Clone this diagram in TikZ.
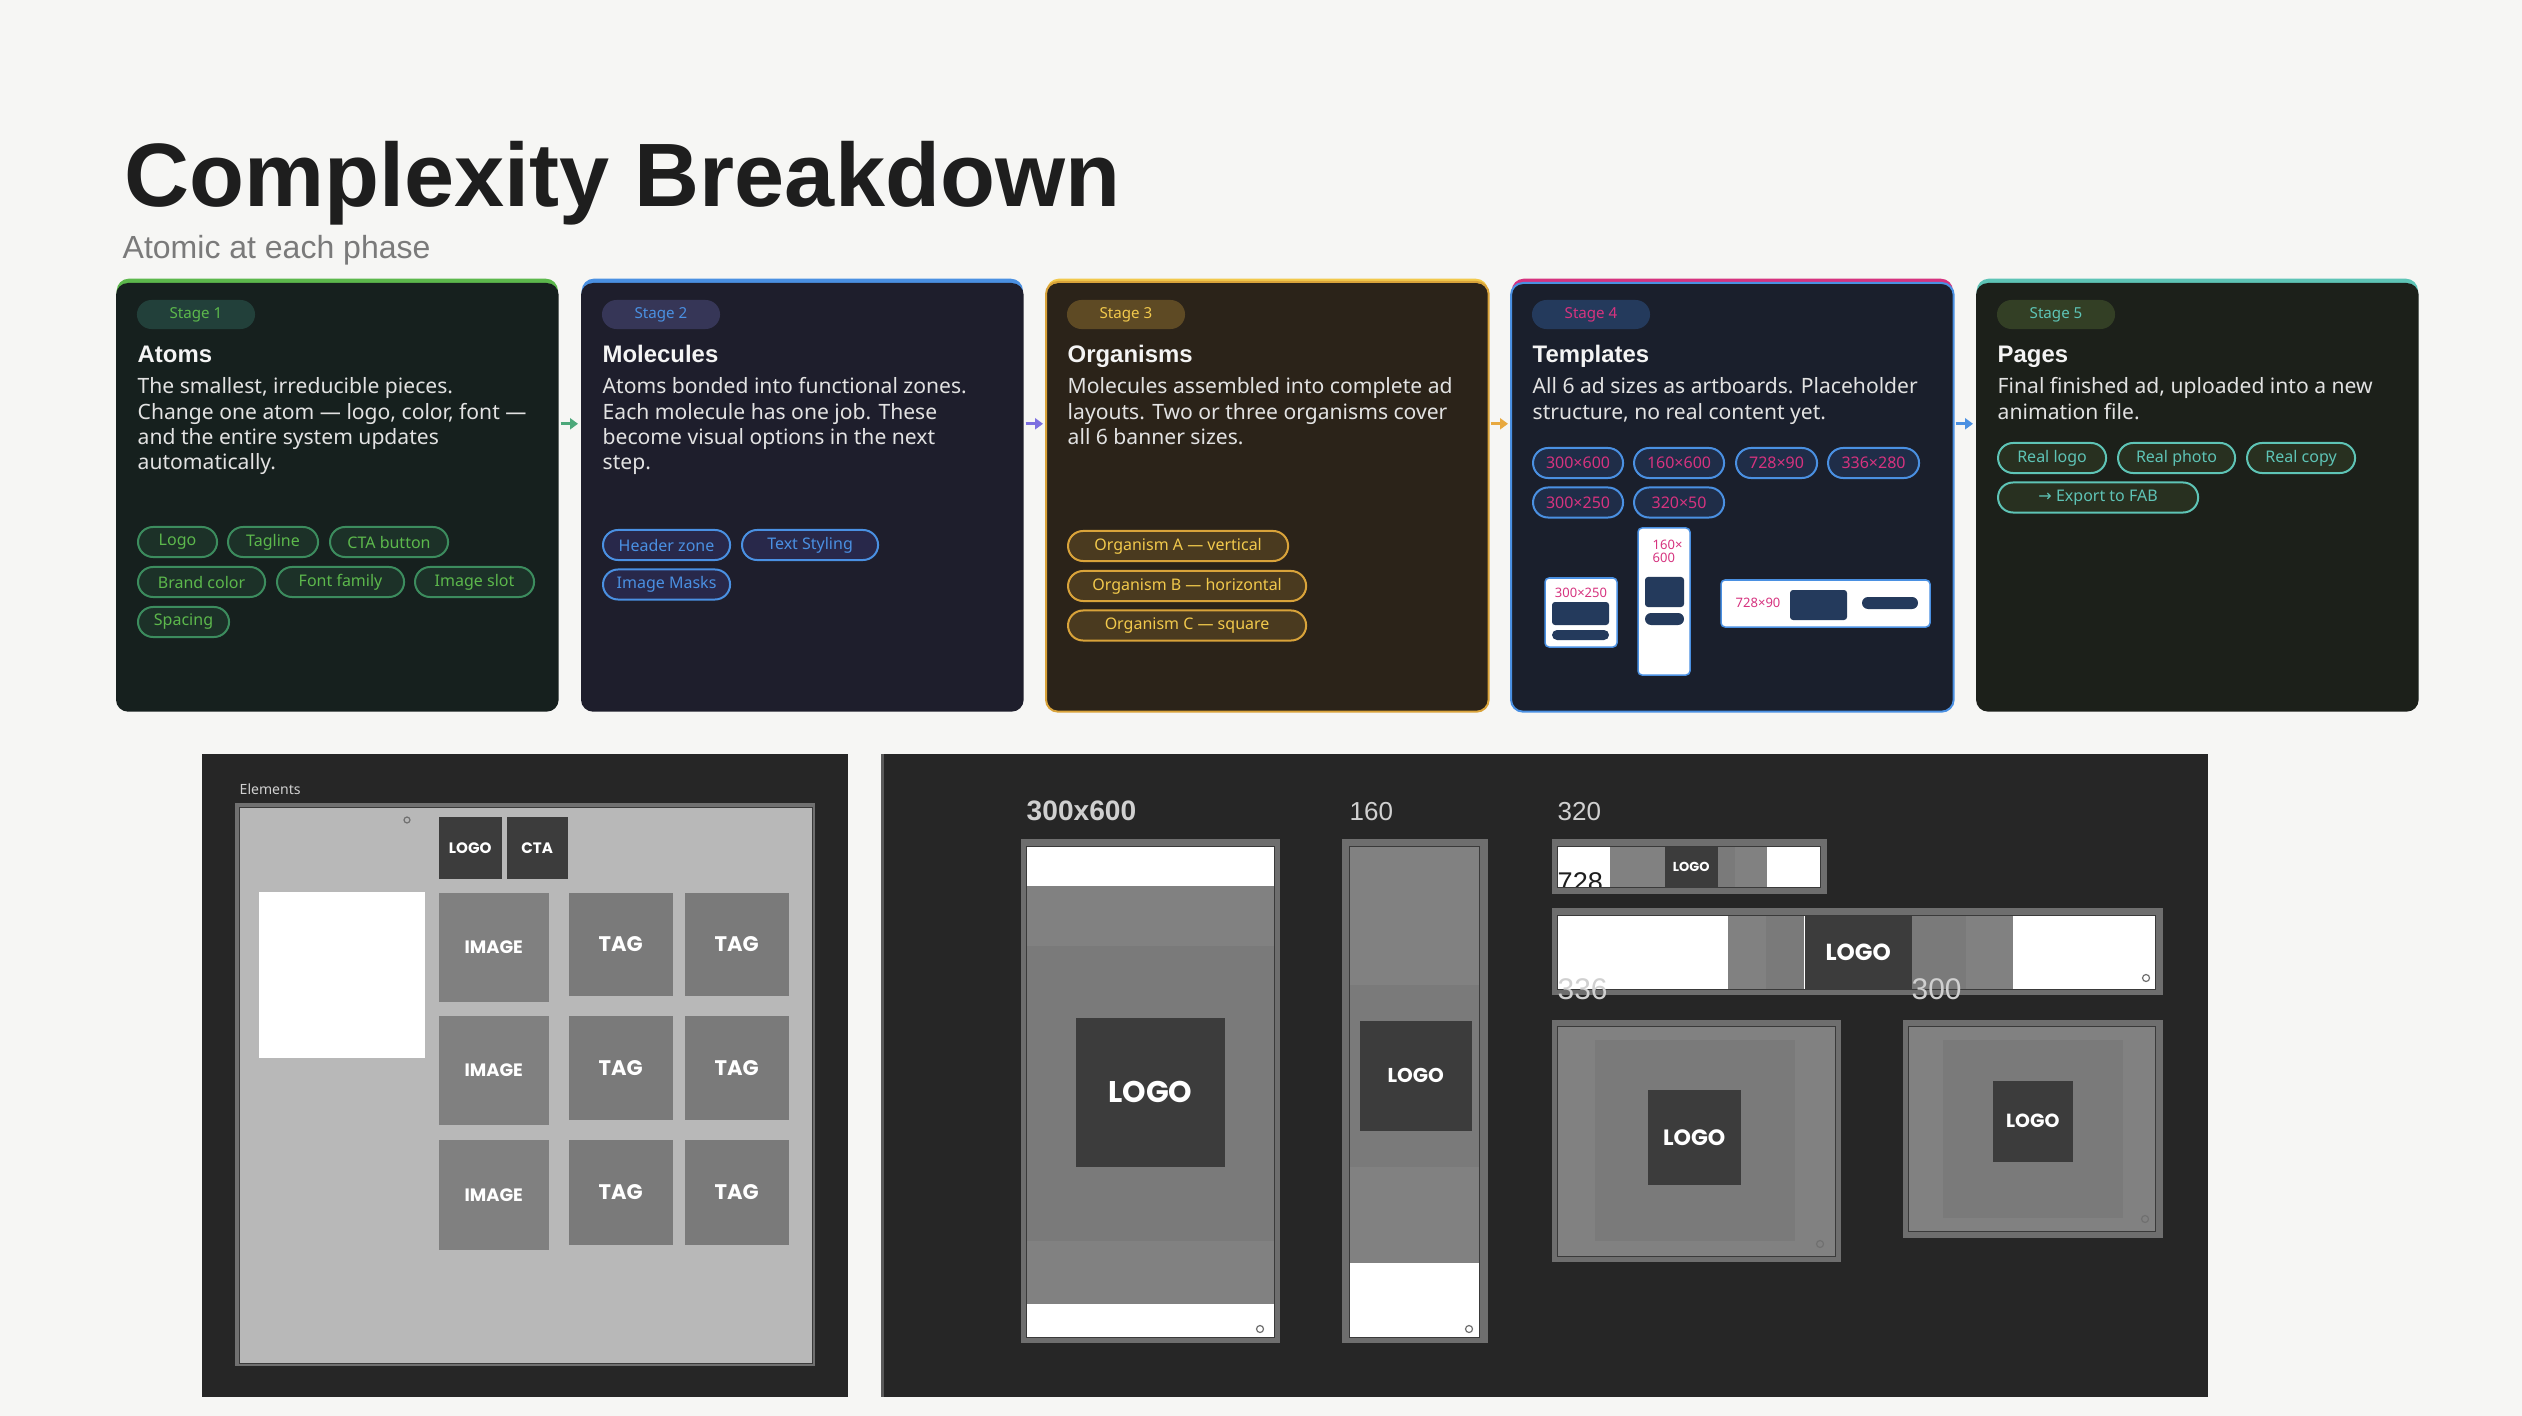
\documentclass[tikz,border=0pt]{standalone}
\usepackage{fontspec}
\setmainfont{Noto Sans}
\newfontfamily\headfont{Liberation Sans}
\newfontfamily\geofont{Poppins}
\newfontfamily\symfont{DejaVu Sans}
\usetikzlibrary{arrows.meta,shapes.misc}

% --- colours ---
\definecolor{canvas}{HTML}{F6F6F4}
\definecolor{titleblack}{HTML}{1E1E1E}
\definecolor{subgrey}{HTML}{7A7A7A}
\definecolor{cardwhite}{HTML}{F4F4F4}
\definecolor{cardgrey}{HTML}{E2E2E2}
\definecolor{atomsbar}{HTML}{5CB84C}
\definecolor{atomsbg}{HTML}{16201E}
\definecolor{atomspill}{HTML}{22403A}
\definecolor{atomschip}{HTML}{1C3128}
\definecolor{atomsedge}{HTML}{3C8C5E}
\definecolor{molbar}{HTML}{4A90E2}
\definecolor{molbg}{HTML}{1E1E2C}
\definecolor{molpill}{HTML}{363657}
\definecolor{molchip}{HTML}{28284A}
\definecolor{orgbar}{HTML}{F2C94C}
\definecolor{orgbg}{HTML}{2B2319}
\definecolor{orgpill}{HTML}{5E4A24}
\definecolor{orgchip}{HTML}{4A3A1F}
\definecolor{orgedge}{HTML}{D9A33A}
\definecolor{tplbar}{HTML}{D6337F}
\definecolor{tplbg}{HTML}{1A1F2C}
\definecolor{tplpill}{HTML}{243A5C}
\definecolor{tplchip}{HTML}{1F2D48}
\definecolor{pgbar}{HTML}{5EC4B6}
\definecolor{pgbg}{HTML}{1C201A}
\definecolor{pgpill}{HTML}{333F25}
\definecolor{pgchip}{HTML}{283020}
\definecolor{flowgreen}{HTML}{4CA87A}
\definecolor{flowpurple}{HTML}{7C6FE0}
\definecolor{floworange}{HTML}{E8A93F}
\definecolor{flowblue}{HTML}{4A90E2}
\definecolor{paneldark}{HTML}{262626}
\definecolor{panelline}{HTML}{5A5A5A}
\definecolor{frameedge}{HTML}{707070}
\definecolor{framefill}{HTML}{B8B8B8}
\definecolor{imgtile}{HTML}{808080}
\definecolor{tagtile}{HTML}{7A7A7A}
\definecolor{logodark}{HTML}{3C3C3C}
\definecolor{bandlight}{HTML}{818181}
\definecolor{bandmid}{HTML}{7A7A7A}
\definecolor{boardedge}{HTML}{6E6E6E}
\definecolor{boardline}{HTML}{3A3A3A}
\definecolor{labelgrey}{HTML}{D0D0D0}

\tikzset{
  card/.style={rounded corners=0.12cm, inner sep=0pt, minimum width=4.41cm,
    minimum height=4.32cm, anchor=north west},
  stagepill/.style={rounded rectangle, inner sep=0pt, minimum width=1.18cm,
    minimum height=0.29cm, font=\fontsize{4.3}{5}\selectfont},
  cardtitle/.style={anchor=base west, inner sep=0pt, text=cardwhite,
    font=\headfont\bfseries\fontsize{6.8}{8}\selectfont},
  cardtext/.style={anchor=north west, inner sep=0pt, align=left, text=cardgrey,
    font=\fontsize{6}{7.2}\selectfont},
  chip/.style={rounded rectangle, anchor=west, inner sep=0pt, minimum height=0.30cm,
    line width=0.02cm, font=\fontsize{4.55}{5}\selectfont},
  atomchip/.style={chip, fill=atomschip, draw=atomsedge, text=atomsbar},
  molchip/.style={chip, fill=molchip, draw=molbar, text=molbar},
  orgchip/.style={chip, fill=orgchip, draw=orgedge, text=orgbar},
  tplchip/.style={chip, fill=tplchip, draw=molbar, text=tplbar},
  pgchip/.style={chip, fill=pgchip, draw=pgbar, text=pgbar},
  minilabel/.style={inner sep=0pt, text=tplbar, font=\fontsize{3.7}{4.2}\selectfont},
  flow/.style={line width=0.03cm, -{Triangle[length=0.08cm,width=0.11cm]},
    shorten <=0.02cm, shorten >=0.03cm},
  tile/.style={anchor=north west, inner sep=0pt, text=white, font=\geofont\bfseries},
  logobox/.style={anchor=north west, inner sep=0pt, fill=logodark, text=white,
    font=\geofont\bfseries},
  sizelabel/.style={anchor=base west, inner sep=0pt, text=labelgrey, font=\headfont},
  icon/.style={draw=frameedge, line width=0.012cm}
}

\begin{document}
\begin{tikzpicture}[x=0.01cm, y=-0.01cm]

  % --- page ---
  \fill[canvas] (0,0) rectangle (2522,1416);

  \node[anchor=base west, inner sep=0pt, text=titleblack,
    font=\headfont\bfseries\fontsize{25.6}{30}\selectfont] (title) at (124,207) {Complexity Breakdown};
  \node[anchor=base west, inner sep=0pt, text=subgrey,
    font=\headfont\fontsize{9.1}{11}\selectfont] (subtitle) at (122,259) {Atomic at each phase};

  % --- Stage 1: Atoms ---
  \node[card, fill=atomsbar] (atoms) at (116,278) {};
  \fill[atomsbg, rounded corners=0.12cm] ([yshift=-0.05cm]atoms.north west) rectangle (atoms.south east);
  \node[stagepill, fill=atomspill, text=atomsbar] (s1) at (196,314.5) {Stage 1};
  \node[cardtitle] (t1) at (137,363) {Atoms};
  \node[cardtext] (d1) at (137,377) {The smallest, irreducible pieces.\\Change one atom — logo, color, font —\\and the entire system updates\\automatically.};
  \node[atomchip, minimum width=0.79cm] (logo) at (137,542) {Logo};
  \node[atomchip, minimum width=0.90cm] (tagline) at (227,542) {Tagline};
  \node[atomchip, minimum width=1.18cm] (cta) at (329,542) {CTA button};
  \node[atomchip, minimum width=1.27cm] (brand) at (137,582) {Brand color};
  \node[atomchip, minimum width=1.27cm] (fontfam) at (276,582) {Font family};
  \node[atomchip, minimum width=1.19cm] (imgslot) at (414,582) {Image slot};
  \node[atomchip, minimum width=0.91cm] (spacing) at (137,622) {Spacing};

  % --- Stage 2: Molecules ---
  \node[card, fill=molbar] (molecules) at (581,278) {};
  \fill[molbg, rounded corners=0.12cm] ([yshift=-0.05cm]molecules.north west) rectangle (molecules.south east);
  \node[stagepill, fill=molpill, text=molbar] (s2) at (661,314.5) {Stage 2};
  \node[cardtitle] (t2) at (602,363) {Molecules};
  \node[cardtext] (d2) at (602,377) {Atoms bonded into functional zones.\\Each molecule has one job. These\\become visual options in the next\\step.};
  \node[molchip, minimum width=1.27cm] (header) at (602,545) {Header zone};
  \node[molchip, minimum width=1.36cm] (textstyle) at (741,545) {Text Styling};
  \node[molchip, minimum width=1.27cm] (masks) at (602,584.5) {Image Masks};

  % --- Stage 3: Organisms ---
  \node[card, fill=orgbar] (organisms) at (1046,278) {};
  \fill[orgbg, rounded corners=0.12cm] ([yshift=-0.05cm]organisms.north west) rectangle (organisms.south east);
  \draw[orgedge, line width=0.02cm, rounded corners=0.12cm] ([yshift=-0.04cm]organisms.north west) rectangle (organisms.south east);
  \node[stagepill, fill=orgpill, text=orgbar] (s3) at (1126,314.5) {Stage 3};
  \node[cardtitle] (t3) at (1067,363) {Organisms};
  \node[cardtext] (d3) at (1067,377) {Molecules assembled into complete ad\\layouts. Two or three organisms cover\\all 6 banner sizes.};
  \node[orgchip, minimum width=2.20cm] (orgA) at (1067,546) {Organism A — vertical};
  \node[orgchip, minimum width=2.38cm] (orgB) at (1067,586) {Organism B — horizontal};
  \node[orgchip, minimum width=2.38cm] (orgC) at (1067,625.5) {Organism C — square};

  % --- Stage 4: Templates ---
  \node[card, fill=tplbar] (templates) at (1511,278) {};
  \fill[tplbg, rounded corners=0.12cm] ([yshift=-0.05cm]templates.north west) rectangle (templates.south east);
  \draw[molbar, line width=0.02cm, rounded corners=0.12cm] ([yshift=-0.05cm]templates.north west) rectangle (templates.south east);
  \node[stagepill, fill=tplpill, text=tplbar] (s4) at (1591,314.5) {Stage 4};
  \node[cardtitle] (t4) at (1532,363) {Templates};
  \node[cardtext] (d4) at (1532,377) {All 6 ad sizes as artboards. Placeholder\\structure, no real content yet.};
  \node[tplchip, minimum width=0.90cm] (sz1) at (1532,463) {300×600};
  \node[tplchip, minimum width=0.90cm] (sz2) at (1633,463) {160×600};
  \node[tplchip, minimum width=0.81cm] (sz3) at (1735,463) {728×90};
  \node[tplchip, minimum width=0.91cm] (sz4) at (1827,463) {336×280};
  \node[tplchip, minimum width=0.90cm] (sz5) at (1532,502.5) {300×250};
  \node[tplchip, minimum width=0.90cm] (sz6) at (1633,502.5) {320×50};

  % mini artboards
  \draw[fill=white, draw=molbar, line width=0.015cm, rounded corners=0.04cm] (1545,578) rectangle (1617,647);
  \node[minilabel] (mb1) at (1581,593) {300×250};
  \fill[tplpill, rounded corners=0.03cm] (1552,602) rectangle (1609,625);
  \fill[tplpill, rounded corners=0.05cm] (1552,630) rectangle (1609,640);

  \draw[fill=white, draw=molbar, line width=0.015cm, rounded corners=0.04cm] (1638,528) rectangle (1690,675);
  \node[minilabel, anchor=north west, align=left, font=\fontsize{3.7}{3.8}\selectfont] (mb2) at (1652,539) {160×\\600};
  \fill[tplpill, rounded corners=0.03cm] (1645,577) rectangle (1684,607);
  \fill[tplpill, rounded corners=0.06cm] (1645,613) rectangle (1684,625);

  \draw[fill=white, draw=molbar, line width=0.015cm, rounded corners=0.04cm] (1721,580) rectangle (1930,627);
  \node[minilabel, anchor=west] (mb3) at (1735,603) {728×90};
  \fill[tplpill, rounded corners=0.03cm] (1790,590) rectangle (1847,620);
  \fill[tplpill, rounded corners=0.06cm] (1862,597) rectangle (1918,609);

  % --- Stage 5: Pages ---
  \node[card, fill=pgbar] (pages) at (1976,278) {};
  \fill[pgbg, rounded corners=0.12cm] ([yshift=-0.05cm]pages.north west) rectangle (pages.south east);
  \node[stagepill, fill=pgpill, text=pgbar] (s5) at (2056,314.5) {Stage 5};
  \node[cardtitle] (t5) at (1997,363) {Pages};
  \node[cardtext] (d5) at (1997,377) {Final finished ad, uploaded into a new\\animation file.};
  \node[pgchip, minimum width=1.08cm] (reallogo) at (1997,458) {Real logo};
  \node[pgchip, minimum width=1.17cm] (realphoto) at (2117,458) {Real photo};
  \node[pgchip, minimum width=1.08cm] (realcopy) at (2246,458) {Real copy};
  \node[pgchip, minimum width=2.00cm] (export) at (1997,497.5) {{\symfont →} Export to FAB};

  % --- flow between stages ---
  \draw[flow, flowgreen] ([yshift=0.71cm]atoms.east) -- ([yshift=0.71cm]molecules.west);
  \draw[flow, flowpurple] ([yshift=0.71cm]molecules.east) -- ([yshift=0.71cm]organisms.west);
  \draw[flow, floworange] ([yshift=0.71cm]organisms.east) -- ([yshift=0.71cm]templates.west);
  \draw[flow, flowblue] ([yshift=0.71cm]templates.east) -- ([yshift=0.71cm]pages.west);

  % --- Elements panel ---
  \fill[paneldark] (202,754) rectangle (848,1397);
  \node[anchor=base west, inner sep=0pt, text=labelgrey, font=\fontsize{4}{5}\selectfont] (elements) at (239,794) {Elements};
  \fill[frameedge] (235,803) rectangle (815,1366);
  \fill[framefill] (239,807) rectangle (812,1363);
  \draw[boardline, line width=0.008cm] (239,807) rectangle (812,1363);
  \fill[white] (259,892) rectangle (425,1058);
  \draw[icon] (407,820) circle (0.03cm);
  \node[logobox, minimum width=0.63cm, minimum height=0.62cm, font=\geofont\bfseries\fontsize{4.3}{5}\selectfont] (elLogo) at (438,816) {LOGO};
  \node[logobox, minimum width=0.61cm, minimum height=0.62cm, font=\geofont\bfseries\fontsize{4.3}{5}\selectfont] (elCta) at (506,816) {CTA};
  \node[tile, fill=imgtile, minimum width=1.10cm, minimum height=1.09cm, font=\geofont\bfseries\fontsize{5.1}{6}\selectfont] (img1) at (438,892) {IMAGE};
  \node[tile, fill=imgtile, minimum width=1.10cm, minimum height=1.09cm, font=\geofont\bfseries\fontsize{5.1}{6}\selectfont] (img2) at (438,1015) {IMAGE};
  \node[tile, fill=imgtile, minimum width=1.10cm, minimum height=1.10cm, font=\geofont\bfseries\fontsize{5.1}{6}\selectfont] (img3) at (438,1139) {IMAGE};
  \node[tile, fill=tagtile, minimum width=1.04cm, minimum height=1.03cm, font=\geofont\bfseries\fontsize{6}{7}\selectfont] (tagA1) at (568,892) {TAG};
  \node[tile, fill=tagtile, minimum width=1.04cm, minimum height=1.03cm, font=\geofont\bfseries\fontsize{6}{7}\selectfont] (tagB1) at (684,892) {TAG};
  \node[tile, fill=tagtile, minimum width=1.04cm, minimum height=1.04cm, font=\geofont\bfseries\fontsize{6}{7}\selectfont] (tagA2) at (568,1015) {TAG};
  \node[tile, fill=tagtile, minimum width=1.04cm, minimum height=1.04cm, font=\geofont\bfseries\fontsize{6}{7}\selectfont] (tagB2) at (684,1015) {TAG};
  \node[tile, fill=tagtile, minimum width=1.04cm, minimum height=1.05cm, font=\geofont\bfseries\fontsize{6}{7}\selectfont] (tagA3) at (568,1139) {TAG};
  \node[tile, fill=tagtile, minimum width=1.04cm, minimum height=1.05cm, font=\geofont\bfseries\fontsize{6}{7}\selectfont] (tagB3) at (684,1139) {TAG};

  % --- artboards panel ---
  \fill[paneldark] (881,754) rectangle (2208,1397);
  \fill[panelline] (881,754) rectangle (884,1397);

  % 300x600
  \node[sizelabel, font=\headfont\bfseries\fontsize{8}{9}\selectfont] (lab300x600) at (1026,820) {300x600};
  \fill[boardedge] (1021,839) rectangle (1280,1343);
  \fill[bandlight] (1026,846) rectangle (1274,1337);
  \fill[white] (1026,846) rectangle (1274,886);
  \fill[bandmid] (1026,946) rectangle (1274,1241);
  \fill[white] (1026,1304) rectangle (1274,1337);
  \draw[boardline, line width=0.01cm] (1026,846) rectangle (1274,1337);
  \node[logobox, minimum width=1.49cm, minimum height=1.49cm, font=\geofont\bfseries\fontsize{8.5}{10}\selectfont] (logo300x600) at (1075,1017) {LOGO};
  \draw[icon] (1260,1329) circle (0.035cm);

  % 160x600
  \node[sizelabel, font=\headfont\fontsize{7.4}{9}\selectfont] (lab160) at (1349,820) {160};
  \fill[boardedge] (1342,839) rectangle (1488,1343);
  \fill[bandlight] (1349,846) rectangle (1479,1337);
  \fill[bandmid] (1349,985) rectangle (1479,1167);
  \fill[white] (1349,1263) rectangle (1479,1337);
  \draw[boardline, line width=0.01cm] (1349,846) rectangle (1479,1337);
  \node[logobox, minimum width=1.12cm, minimum height=1.10cm, font=\geofont\bfseries\fontsize{5.7}{7}\selectfont] (logo160) at (1359,1020) {LOGO};
  \draw[icon] (1469,1329) circle (0.035cm);

  % 320x50
  \node[sizelabel, font=\headfont\fontsize{7.4}{9}\selectfont] (lab320) at (1557,820) {320};
  \fill[boardedge] (1552,839) rectangle (1827,894);
  \fill[bandlight] (1557,846) rectangle (1820,887);
  \fill[white] (1557,846) rectangle (1610,887);
  \fill[bandmid] (1717,846) rectangle (1735,887);
  \fill[white] (1767,846) rectangle (1820,887);
  \begin{scope}
    \clip (1557,846) rectangle (1820,887);
    \node[anchor=base west, inner sep=0pt, text=titleblack, font=\headfont\fontsize{7.7}{9}\selectfont] (lab728) at (1557,891) {728};
  \end{scope}
  \draw[boardline, line width=0.01cm] (1557,846) rectangle (1820,887);
  \node[logobox, minimum width=0.53cm, minimum height=0.41cm, font=\geofont\bfseries\fontsize{3.7}{4}\selectfont] (logo320) at (1664,846) {LOGO};

  % 728x90
  \fill[boardedge] (1552,908) rectangle (2163,995);
  \fill[white] (1557,915) rectangle (2155,989);
  \fill[bandlight] (1728,915) rectangle (1766,989);
  \fill[bandmid] (1766,915) rectangle (1804,989);
  \fill[bandmid] (1911,915) rectangle (1966,989);
  \fill[bandlight] (1966,915) rectangle (2013,989);
  \draw[boardline, line width=0.01cm] (1557,915) rectangle (2155,989);
  \node[logobox, minimum width=1.07cm, minimum height=0.74cm, font=\geofont\bfseries\fontsize{6.6}{8}\selectfont] (logo728) at (1804,915) {LOGO};
  \draw[icon] (2146,978) circle (0.035cm);
  \node[sizelabel, font=\headfont\fontsize{8.5}{10}\selectfont] (lab336) at (1557,999) {336};
  \node[sizelabel, font=\headfont\fontsize{8.5}{10}\selectfont] (lab300) at (1911,999) {300};

  % 336x280
  \fill[boardedge] (1552,1020) rectangle (1841,1262);
  \fill[bandlight] (1557,1026) rectangle (1835,1256);
  \fill[bandmid] (1595,1040) rectangle (1795,1241);
  \draw[boardline, line width=0.01cm] (1557,1026) rectangle (1835,1256);
  \node[logobox, minimum width=0.93cm, minimum height=0.95cm, font=\geofont\bfseries\fontsize{6.3}{7}\selectfont] (logo336) at (1647,1089) {LOGO};
  \draw[icon] (1820,1244) circle (0.035cm);

  % 300x250
  \fill[boardedge] (1903,1020) rectangle (2163,1238);
  \fill[bandlight] (1908,1026) rectangle (2155,1231);
  \fill[bandmid] (1943,1040) rectangle (2123,1218);
  \draw[boardline, line width=0.01cm] (1908,1026) rectangle (2155,1231);
  \node[logobox, minimum width=0.80cm, minimum height=0.81cm, font=\geofont\bfseries\fontsize{5.4}{6}\selectfont] (logo300) at (1992,1080) {LOGO};
  \draw[icon] (2145,1219) circle (0.035cm);

\end{tikzpicture}
\end{document}
